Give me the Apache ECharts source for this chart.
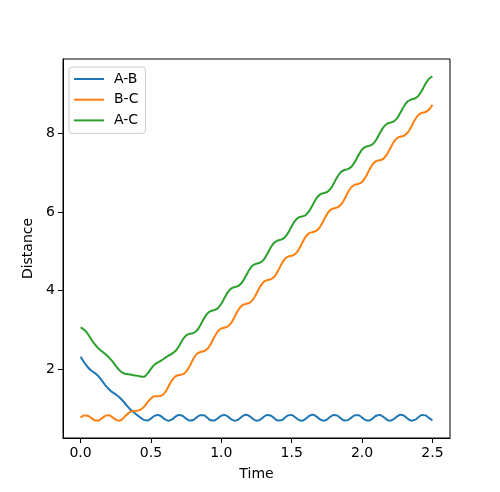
<!DOCTYPE html>
<html>
<head>
<meta charset="utf-8">
<title>Distance vs Time</title>
<script src="https://cdn.jsdelivr.net/npm/echarts@6.0.0/dist/echarts.min.js"></script>
<style>
  html, body { margin: 0; padding: 0; background: #fff; }
  #chart { width: 500px; height: 492px; }
</style>
</head>
<body>
<div id="chart"></div>
<script>
// sample instants (s)
const times = [
  0, 0.025, 0.05, 0.075, 0.1, 0.125, 0.15, 0.175, 0.2, 0.225,
  0.25, 0.275, 0.3, 0.325, 0.35, 0.375, 0.4, 0.425, 0.45, 0.475,
  0.5, 0.525, 0.55, 0.575, 0.6, 0.625, 0.65, 0.675, 0.7, 0.725,
  0.75, 0.775, 0.8, 0.825, 0.85, 0.875, 0.9, 0.925, 0.95, 0.975,
  1, 1.025, 1.05, 1.075, 1.1, 1.125, 1.15, 1.175, 1.2, 1.225,
  1.25, 1.275, 1.3, 1.325, 1.35, 1.375, 1.4, 1.425, 1.45, 1.475,
  1.5, 1.525, 1.55, 1.575, 1.6, 1.625, 1.65, 1.675, 1.7, 1.725,
  1.75, 1.775, 1.8, 1.825, 1.85, 1.875, 1.9, 1.925, 1.95, 1.975,
  2, 2.025, 2.05, 2.075, 2.1, 2.125, 2.15, 2.175, 2.2, 2.225,
  2.25, 2.275, 2.3, 2.325, 2.35, 2.375, 2.4, 2.425, 2.45, 2.475,
  2.5
];

const distAB = [
  2.31, 2.17, 2.05, 1.96, 1.90, 1.82, 1.71, 1.59, 1.49, 1.41,
  1.35, 1.28, 1.19, 1.08, 0.98, 0.90, 0.83, 0.76, 0.70, 0.684,
  0.735, 0.805, 0.829, 0.785, 0.714, 0.680, 0.715, 0.787, 0.829, 0.804,
  0.734, 0.683, 0.698, 0.766, 0.823, 0.818, 0.756, 0.692, 0.687, 0.744,
  0.811, 0.827, 0.777, 0.707, 0.681, 0.723, 0.794, 0.830, 0.797, 0.726,
  0.681, 0.704, 0.774, 0.826, 0.813, 0.747, 0.688, 0.690, 0.752, 0.816,
  0.825, 0.769, 0.701, 0.682, 0.730, 0.801, 0.830, 0.790, 0.718, 0.680,
  0.711, 0.782, 0.828, 0.808, 0.739, 0.685, 0.695, 0.760, 0.821, 0.821,
  0.761, 0.695, 0.684, 0.738, 0.807, 0.828, 0.782, 0.711, 0.680, 0.718,
  0.790, 0.830, 0.801, 0.731, 0.682, 0.700, 0.769, 0.824, 0.817, 0.753,
  0.691
];

const distBC = [
  0.759, 0.813, 0.809, 0.751, 0.692, 0.686, 0.739, 0.802, 0.818, 0.771,
  0.706, 0.680, 0.729, 0.826, 0.900, 0.930, 0.933, 0.961, 1.032, 1.147,
  1.246, 1.303, 1.302, 1.319, 1.400, 1.556, 1.715, 1.815, 1.846, 1.863,
  1.932, 2.072, 2.248, 2.377, 2.432, 2.452, 2.507, 2.636, 2.808, 2.956,
  3.031, 3.055, 3.093, 3.200, 3.366, 3.527, 3.626, 3.660, 3.686, 3.770,
  3.923, 4.094, 4.215, 4.263, 4.284, 4.346, 4.482, 4.655, 4.796, 4.865,
  4.886, 4.930, 5.045, 5.214, 5.371, 5.461, 5.490, 5.520, 5.613, 5.771,
  5.939, 6.052, 6.094, 6.117, 6.187, 6.329, 6.502, 6.636, 6.697, 6.718,
  6.767, 6.890, 7.061, 7.213, 7.295, 7.320, 7.355, 7.456, 7.619, 7.784,
  7.888, 7.925, 7.949, 8.027, 8.177, 8.348, 8.475, 8.528, 8.549, 8.606,
  8.736
];

const distAC = [
  3.06, 3.00, 2.90, 2.76, 2.63, 2.53, 2.45, 2.38, 2.30, 2.20,
  2.08, 1.97, 1.90, 1.87, 1.86, 1.84, 1.83, 1.81, 1.80, 1.88,
  2.00, 2.11, 2.17, 2.22, 2.28, 2.34, 2.39, 2.46, 2.585, 2.743,
  2.853, 2.896, 2.915, 2.975, 3.109, 3.276, 3.410, 3.475, 3.499, 3.547,
  3.661, 3.825, 3.975, 4.061, 4.091, 4.125, 4.218, 4.373, 4.534, 4.641,
  4.683, 4.709, 4.781, 4.921, 5.088, 5.215, 5.273, 5.297, 5.351, 5.472,
  5.638, 5.782, 5.861, 5.888, 5.926, 6.028, 6.186, 6.344, 6.443, 6.480,
  6.508, 6.588, 6.734, 6.899, 7.019, 7.071, 7.095, 7.155, 7.284, 7.450,
  7.589, 7.660, 7.685, 7.728, 7.837, 7.999, 8.153, 8.244, 8.277, 8.308,
  8.396, 8.547, 8.710, 8.823, 8.869, 8.893, 8.960, 9.096, 9.263, 9.395,
  9.459
];

const seriesNames = ['A-B', 'B-C', 'A-C'];
const seriesColors = ['#1f77b4', '#ff7f0e', '#2ca02c'];
const xTicks = [0, 0.5, 1, 1.5, 2, 2.5];
const yTicks = [2, 4, 6, 8];

const font = 'DejaVu Sans';

function pairs(values) {
  return times.map((t, i) => [t, values[i]]);
}

const chart = echarts.init(document.getElementById('chart'));

chart.setOption({
  animation: false,
  backgroundColor: '#fff',
  grid: {
    left: 63,
    right: 50,
    top: 59,
    bottom: 54,
    show: true,
    borderColor: '#000',
    borderWidth: 1,
    backgroundColor: '#fff',
    outerBoundsMode: 'none'
  },
  legend: {
    orient: 'vertical',
    left: 69,
    top: 67,
    icon: 'path://M0,0 H30 V2 H0 Z',
    itemWidth: 30,
    itemHeight: 14,
    itemGap: 6.7,
    padding: [5, 7, 6, 5],
    borderColor: '#cccccc',
    borderWidth: 1,
    borderRadius: 3,
    backgroundColor: 'rgba(255,255,255,0.8)',
    textStyle: {
      fontFamily: font,
      fontSize: 14,
      lineHeight: 14,
      color: '#000',
      padding: [0, 0, 0, 5]
    },
    data: seriesNames
  },
  xAxis: {
    type: 'value',
    min: -0.125,
    max: 2.625,
    name: 'Time',
    nameLocation: 'middle',
    nameGap: 29,
    nameTextStyle: { fontFamily: font, fontSize: 14, color: '#000' },
    axisLine: { show: true, onZero: false, lineStyle: { color: '#000', width: 1 } },
    axisTick: { show: true, customValues: xTicks, length: 5, lineStyle: { color: '#000', width: 1 } },
    axisLabel: {
      customValues: xTicks,
      formatter: v => v.toFixed(1),
      fontFamily: font,
      fontSize: 14,
      color: '#000',
      margin: 8
    },
    splitLine: { show: false }
  },
  yAxis: {
    type: 'value',
    min: 0.24,
    max: 9.9,
    name: 'Distance',
    nameLocation: 'middle',
    nameGap: 21,
    nameTextStyle: { fontFamily: font, fontSize: 14, color: '#000' },
    axisLine: { show: true, onZero: false, lineStyle: { color: '#000', width: 1 } },
    axisTick: { show: true, customValues: yTicks, length: 5, lineStyle: { color: '#000', width: 1 } },
    axisLabel: {
      customValues: yTicks,
      formatter: v => String(v),
      fontFamily: font,
      fontSize: 14,
      color: '#000',
      margin: 8
    },
    splitLine: { show: false }
  },
  series: [distAB, distBC, distAC].map((values, i) => ({
    name: seriesNames[i],
    type: 'line',
    data: pairs(values),
    symbol: 'none',
    smooth: 0.35,
    color: seriesColors[i],
    lineStyle: { width: 2, color: seriesColors[i] }
  }))
});
</script>
</body>
</html>
